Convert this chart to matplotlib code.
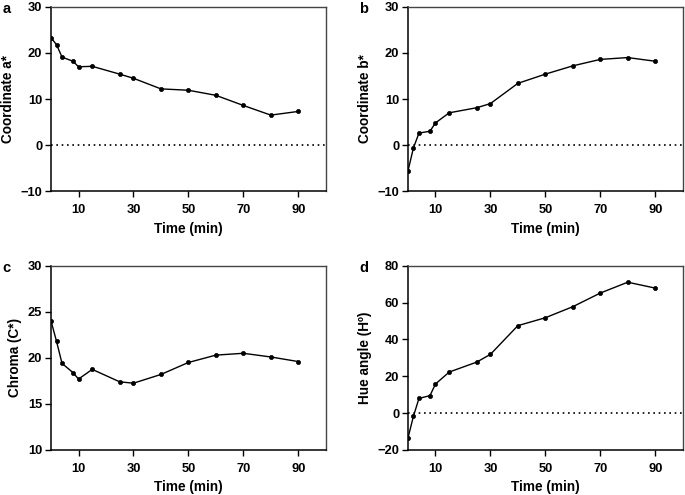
import matplotlib
matplotlib.use('Agg')
import matplotlib.pyplot as plt

plt.rcParams['font.family'] = ['Liberation Sans', 'DejaVu Sans']
plt.rcParams['font.weight'] = 'bold'

# sampling times (min)
time = [0, 2, 4, 8, 10, 15, 25, 30, 40, 50, 60, 70, 80, 90]

# colour coordinates
a_star = [23.3, 21.8, 19.1, 18.2, 17.0, 17.1, 15.4, 14.5, 12.2, 11.9, 10.8, 8.6, 6.5, 7.3]
b_star = [-5.6, -0.6, 2.6, 3.0, 4.8, 7.0, 8.1, 9.0, 13.4, 15.4, 17.2, 18.6, 19.0, 18.2]
chroma = [24.0, 21.8, 19.4, 18.4, 17.7, 18.75, 17.4, 17.25, 18.2, 19.5, 20.3, 20.5, 20.1, 19.6]
hue = [-13.5, -1.6, 8.0, 9.5, 15.8, 22.3, 27.7, 31.9, 47.5, 51.8, 57.8, 65.2, 71.1, 67.9]

xticks = [10, 30, 50, 70, 90]

panels = [
    ('a', a_star, 'Coordinate a*', (-10, 30), [-10, 0, 10, 20, 30], True),
    ('b', b_star, 'Coordinate b*', (-10, 30), [-10, 0, 10, 20, 30], True),
    ('c', chroma, 'Chroma (C*)', (10, 30), [10, 15, 20, 25, 30], False),
    ('d', hue, 'Hue angle (H\u00ba)', (-20, 80), [-20, 0, 20, 40, 60, 80], True),
]

# axes boxes in figure fractions [left, bottom, width, height]
boxes = [
    [0.0745, 0.614, 0.401, 0.372],
    [0.5956, 0.614, 0.401, 0.372],
    [0.0745, 0.091, 0.401, 0.372],
    [0.5956, 0.091, 0.401, 0.372],
]

fig = plt.figure(figsize=(6.85, 4.95), dpi=100)

for (letter, values, ylabel, ylim, yticks, zero_line), box in zip(panels, boxes):
    ax = fig.add_axes(box)
    if zero_line:
        ax.axhline(0, color='black', linestyle=(0, (1, 2.2)), linewidth=1.2, zorder=1)
    ax.plot(time, values, color='black', linewidth=1, marker='o', markersize=3.0,
            markeredgewidth=0.5, zorder=3)

    ax.set_xlim(0, 100)
    ax.set_ylim(*ylim)
    ax.set_xticks(xticks)
    ax.set_yticks(yticks)
    ax.tick_params(direction='out', length=4.3, width=1, labelsize=9.3)
    ax.tick_params(axis='x', pad=5)
    ax.tick_params(axis='y', pad=2)
    for lab in ax.get_xticklabels() + ax.get_yticklabels():
        lab.set_fontweight('bold')

    for side in ['left', 'bottom']:
        ax.spines[side].set_linewidth(1.1)
        ax.spines[side].set_color('black')
    for side in ['top', 'right']:
        ax.spines[side].set_linewidth(1.0)
        ax.spines[side].set_color('#444444')

    ax.set_xlabel('Time (min)', fontsize=9.8, fontweight='bold', labelpad=4)
    ax.set_ylabel(ylabel, fontsize=9.8, fontweight='bold', labelpad=4)

    # panel letter at top-left corner
    fig.text(box[0] - 0.071, box[1] + box[3] - 0.004, letter, fontsize=10.5,
             fontweight='bold', ha='left', va='center')

fig.savefig('out.png', dpi=100)
